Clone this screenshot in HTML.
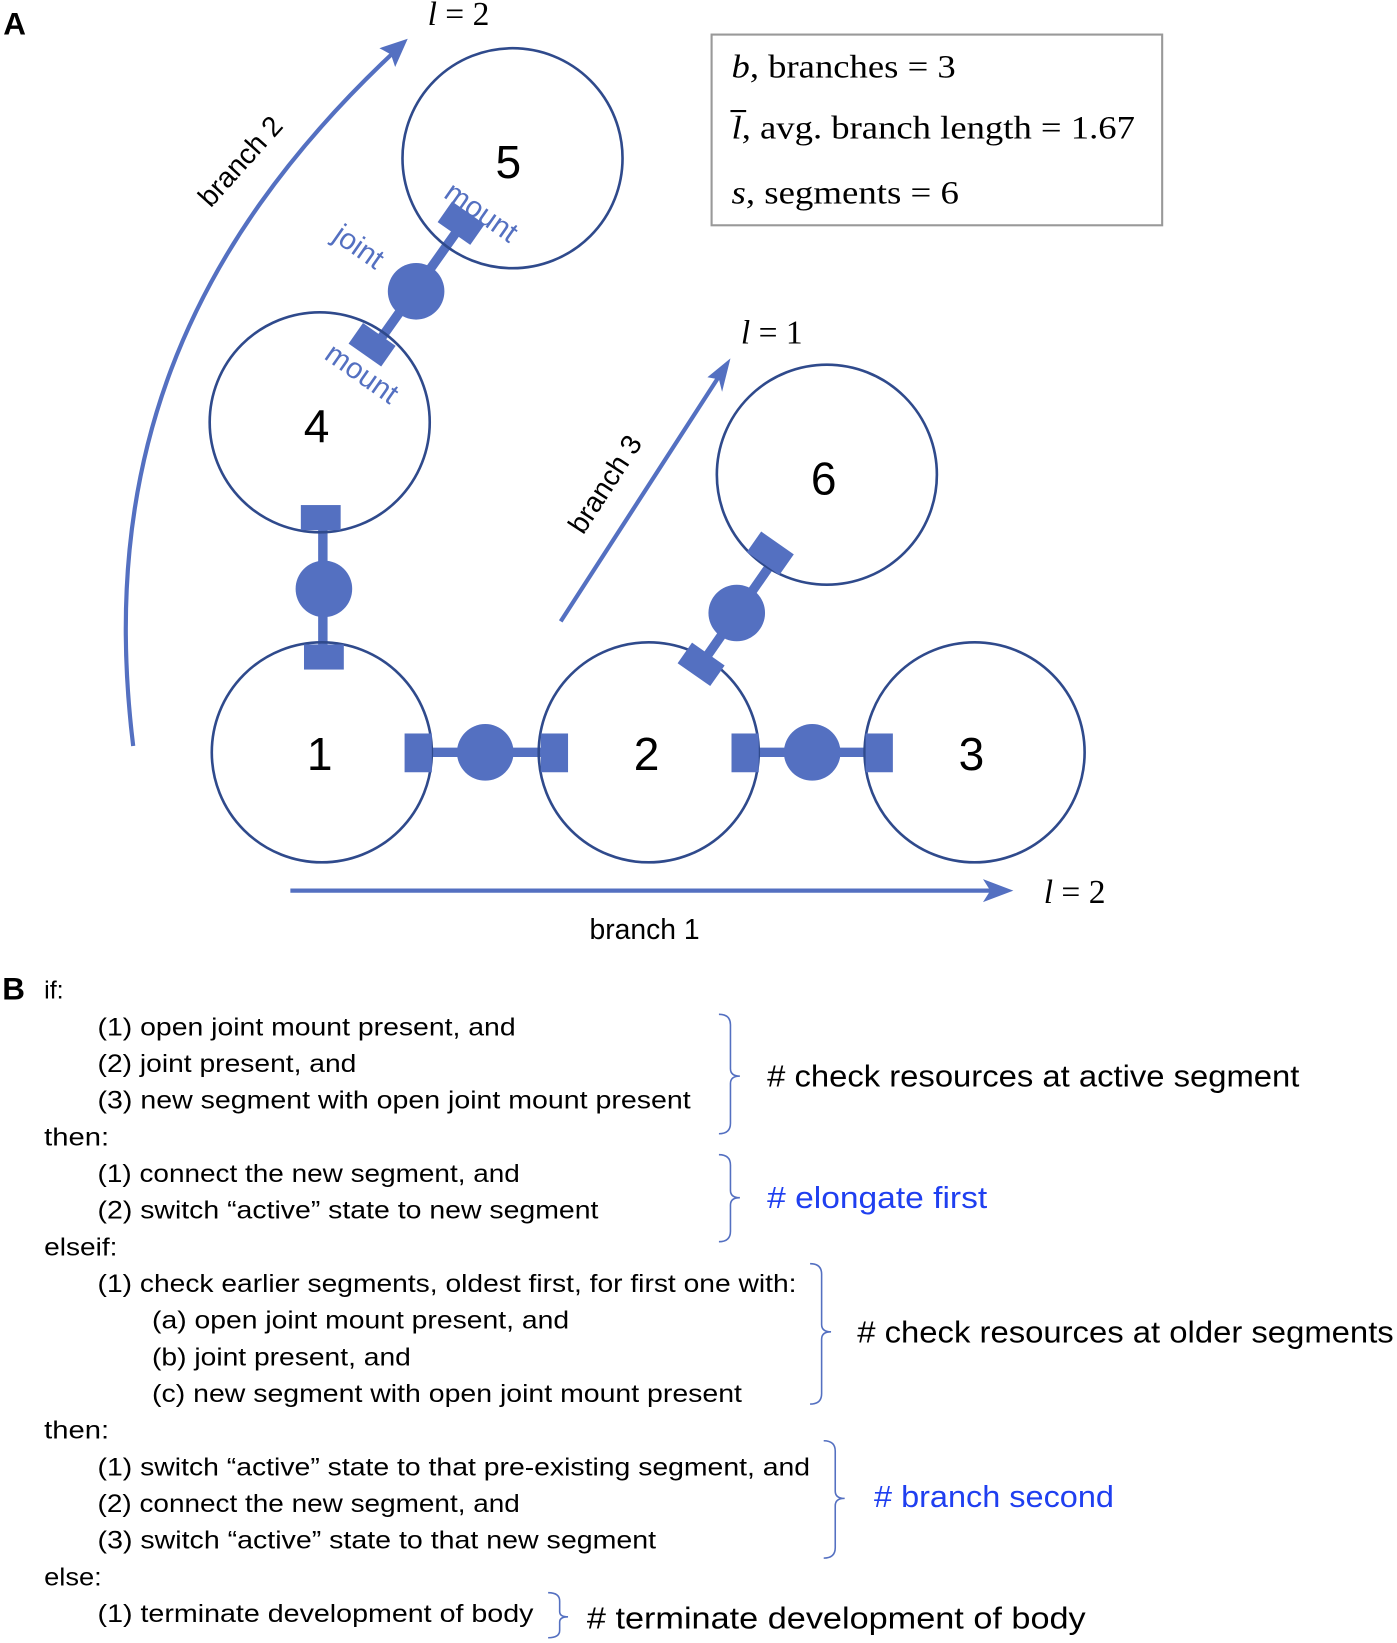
<!DOCTYPE html>
<html><head><meta charset="utf-8"><style>html,body{margin:0;padding:0;background:#fff}svg{display:block}</style></head>
<body>
<svg width="1397" height="1643" viewBox="0 0 1333 1568" xmlns="http://www.w3.org/2000/svg">
<g font-family="Liberation Sans, sans-serif">
<text x="3" y="33" font-size="30" font-weight="bold">A</text>
<text x="2" y="954" font-size="30" font-weight="bold">B</text>
</g>
<g stroke="#5470C1" stroke-width="4" fill="none">
<path d="M127,712 C95,450 170,240 382,44"/>
<path d="M535,593 L692,350"/>
<path d="M277,850 L958,850"/>
</g>
<g fill="#5470C1">
<polygon points="389,37 362,46 373,52 377,64"/>
<polygon points="697,342 675,360 686,362 689,374"/>
<polygon points="967,850 938,839 945,850 938,861"/>
</g>
<g stroke="#5470C1" stroke-width="9">
<line x1="400" y1="718" x2="530" y2="718"/>
<line x1="710" y1="718" x2="842" y2="718"/>
<line x1="308" y1="495" x2="308" y2="625"/>
<line x1="440" y1="215" x2="355" y2="335"/>
<line x1="745" y1="525" x2="665" y2="640"/>
</g>
<g fill="none" stroke="#2F4A8C" stroke-width="2.5">
<circle cx="307" cy="718" r="105"/>
<circle cx="619" cy="718" r="105"/>
<circle cx="930" cy="718" r="105"/>
<circle cx="305" cy="403" r="105"/>
<circle cx="489" cy="151" r="105"/>
<circle cx="789" cy="453" r="105"/>
</g>
<g fill="#5470C1">
<circle cx="463" cy="718" r="27"/>
<circle cx="775" cy="718" r="27"/>
<circle cx="309" cy="562" r="27"/>
<circle cx="397" cy="278" r="27"/>
<circle cx="703" cy="585" r="27"/>
<rect x="386" y="700" width="26" height="37"/>
<rect x="516" y="700" width="26" height="37"/>
<rect x="698" y="700" width="26" height="37"/>
<rect x="826" y="700" width="26" height="37"/>
<rect x="290" y="615" width="38" height="24"/>
<rect x="287" y="482" width="38" height="24"/>
<rect x="-19" y="-12" width="38" height="24" transform="translate(440,213) rotate(35)"/>
<rect x="-19" y="-12" width="38" height="24" transform="translate(355,329) rotate(35)"/>
<rect x="-19" y="-12" width="38" height="24" transform="translate(735,528) rotate(35)"/>
<rect x="-19" y="-12" width="38" height="24" transform="translate(669,634) rotate(35)"/>
</g>
<g font-family="Liberation Sans, sans-serif" font-size="44" text-anchor="middle">
<text x="305" y="735">1</text>
<text x="617" y="735">2</text>
<text x="927" y="735">3</text>
<text x="302" y="422">4</text>
<text x="485" y="170">5</text>
<text x="786" y="472">6</text>
</g>
<g font-family="Liberation Sans, sans-serif" font-size="28" fill="#5470C1" text-anchor="middle">
<text transform="translate(454,210) rotate(35)">mount</text>
<text transform="translate(337,243) rotate(35)">joint</text>
<text transform="translate(340,364) rotate(35)">mount</text>
</g>
<g font-family="Liberation Sans, sans-serif" font-size="27" text-anchor="middle">
<text x="615" y="896">branch 1</text>
<text transform="translate(236,160) rotate(-48)">branch 2</text>
<text transform="translate(585,467) rotate(-57)">branch 3</text>
</g>
<g font-family="Liberation Serif, serif" font-size="32">
<text x="408" y="24"><tspan font-style="italic">l</tspan> = 2</text>
<text x="707" y="328"><tspan font-style="italic">l</tspan> = 1</text>
<text x="996" y="862"><tspan font-style="italic">l</tspan> = 2</text>
</g>
<rect x="679" y="33" width="430" height="182" fill="none" stroke="#999" stroke-width="2"/>
<g font-family="Liberation Serif, serif" font-size="31">
<text x="698" y="74" textLength="214" lengthAdjust="spacingAndGlyphs"><tspan font-style="italic">b</tspan>, branches = 3</text>
<text x="698" y="132" textLength="385" lengthAdjust="spacingAndGlyphs"><tspan font-style="italic">l</tspan>, avg. branch length = 1.67</text>
<line x1="697" y1="106" x2="712" y2="106" stroke="#000" stroke-width="2"/>
<text x="698" y="194" textLength="217" lengthAdjust="spacingAndGlyphs"><tspan font-style="italic">s</tspan>, segments = 6</text>
</g>
<g font-family="Liberation Sans, sans-serif" font-size="24" fill="#000">
<text x="42" y="953">if:</text>
<text x="93" y="988" textLength="399" lengthAdjust="spacingAndGlyphs">(1) open joint mount present, and</text>
<text x="93" y="1023" textLength="247" lengthAdjust="spacingAndGlyphs">(2) joint present, and</text>
<text x="93" y="1058" textLength="566" lengthAdjust="spacingAndGlyphs">(3) new segment with open joint mount present</text>
<text x="42" y="1093" textLength="62" lengthAdjust="spacingAndGlyphs">then:</text>
<text x="93" y="1128" textLength="403" lengthAdjust="spacingAndGlyphs">(1) connect the new segment, and</text>
<text x="93" y="1163" textLength="478" lengthAdjust="spacingAndGlyphs">(2) switch “active” state to new segment</text>
<text x="42" y="1198" textLength="70" lengthAdjust="spacingAndGlyphs">elseif:</text>
<text x="93" y="1233" textLength="667" lengthAdjust="spacingAndGlyphs">(1) check earlier segments, oldest first, for first one with:</text>
<text x="145" y="1268" textLength="398" lengthAdjust="spacingAndGlyphs">(a) open joint mount present, and</text>
<text x="145" y="1303" textLength="247" lengthAdjust="spacingAndGlyphs">(b) joint present, and</text>
<text x="145" y="1338" textLength="563" lengthAdjust="spacingAndGlyphs">(c) new segment with open joint mount present</text>
<text x="42" y="1373" textLength="62" lengthAdjust="spacingAndGlyphs">then:</text>
<text x="93" y="1408" textLength="680" lengthAdjust="spacingAndGlyphs">(1) switch “active” state to that pre-existing segment, and</text>
<text x="93" y="1443" textLength="403" lengthAdjust="spacingAndGlyphs">(2) connect the new segment, and</text>
<text x="93" y="1478" textLength="533" lengthAdjust="spacingAndGlyphs">(3) switch “active” state to that new segment</text>
<text x="42" y="1513" textLength="55" lengthAdjust="spacingAndGlyphs">else:</text>
<text x="93" y="1548" textLength="416" lengthAdjust="spacingAndGlyphs">(1) terminate development of body</text>
</g>
<g font-family="Liberation Sans, sans-serif" font-size="29">
<text x="732" y="1037" textLength="508" lengthAdjust="spacingAndGlyphs">#  check resources at active segment</text>
<text x="732" y="1153" fill="#1F3FF0" textLength="210" lengthAdjust="spacingAndGlyphs"># elongate first</text>
<text x="818" y="1281" textLength="512" lengthAdjust="spacingAndGlyphs">#  check resources at older segments</text>
<text x="834" y="1438" fill="#1F3FF0" textLength="229" lengthAdjust="spacingAndGlyphs"># branch second</text>
<text x="560" y="1554" textLength="476" lengthAdjust="spacingAndGlyphs"># terminate development of body</text>
</g>
<g fill="none" stroke="#5470C1" stroke-width="1.5">
<path d="M686,968 Q697,968 697,978 L697,1020 Q697,1027 706,1027 Q697,1027 697,1034 L697,1072 Q697,1082 686,1082"/>
<path d="M686,1102 Q697,1102 697,1112 L697,1136 Q697,1143 706,1143 Q697,1143 697,1150 L697,1175 Q697,1185 686,1185"/>
<path d="M773,1206 Q784,1206 784,1216 L784,1264 Q784,1271 793,1271 Q784,1271 784,1278 L784,1330 Q784,1340 773,1340"/>
<path d="M786,1375 Q797,1375 797,1385 L797,1423 Q797,1430 806,1430 Q797,1430 797,1437 L797,1477 Q797,1487 786,1487"/>
<path d="M523,1520 Q534,1520 534,1528 L534,1538 Q534,1543 542,1543 Q534,1543 534,1548 L534,1556 Q534,1563 523,1563"/>
</g>
</svg>
</body></html>
